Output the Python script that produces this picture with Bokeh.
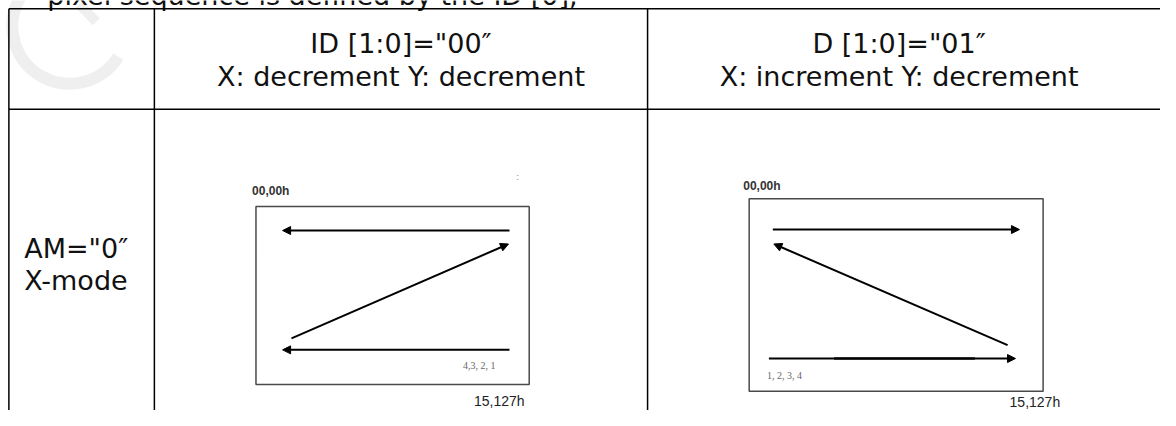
from bokeh.plotting import figure
from bokeh.models import Range1d, Arrow, NormalHead
from bokeh.core.properties import value
from bokeh.embed import file_html
from bokeh.resources import INLINE

# ---- content -------------------------------------------------------------
top_text = "pixel sequence is defined by the ID [0],"
header_line1 = ['ID [1:0]="00\u2033', 'D [1:0]="01\u2033']
header_line2 = ["X: decrement Y: decrement", "X: increment Y: decrement"]
row_label = ['AM="0\u2033', "X-mode"]

# table grid (reference pixels)
col_edges = [8.5, 156, 656]
row_edges = [8.5, 113]
table_right = 1176
table_bottom = 426
header_centers = [406, 911]
header_mid = [44.5, 79]
label_x = 24
label_mid = [257.5, 290.5]

# diagram 1: ID="00"  (x dec, y dec)
d1_box = [259, 536, 214, 399]            # left, right, top, bottom
d1_arrows = [(516, 239, 286, 239), (295, 351, 515, 253), (516, 363, 286, 363)]
d1_start = ("00,00h", 255, 198)
d1_end = ("15,127h", 480, 416)
d1_seq = ("4,3, 2, 1", 469, 379)

# diagram 2: ID="01"  (x inc, y dec)
d2_box = [759, 1057, 206, 406]
d2_arrows = [(783, 238, 1033, 238), (1021, 358, 784, 253), (779, 372, 1029, 372)]
d2_start = ("00,00h", 753, 193)
d2_end = ("15,127h", 1023, 417)
d2_seq = ("1, 2, 3, 4", 777, 390)

# ---- figure --------------------------------------------------------------
p = figure(width=1160, height=410, x_range=Range1d(0, 1176), y_range=Range1d(426, 0),
           output_backend="svg", toolbar_location=None, min_border=0,
           x_axis_location=None, y_axis_location=None)
p.grid.visible = False
p.outline_line_color = None
p.background_fill_color = "white"
p.border_fill_color = "white"

# faint watermark
p.arc(x=[70], y=[27], radius=58, start_angle=1.2, end_angle=5.73,
      line_color="#efefef", line_width=12)
p.segment(x0=[80], y0=[4], x1=[97], y1=[22], line_color="#efefef", line_width=10)

# cut-off sentence above the table
p.text(x=[585], y=[-5.5], text=[top_text], text_font=value("DejaVu Sans"),
       text_font_size="27px", text_align="right", text_baseline="middle",
       text_color="#111111")

# table lines
p.segment(x0=[col_edges[0]] * 2, y0=row_edges, x1=[table_right] * 2, y1=row_edges,
          line_color="black", line_width=1.5)
p.segment(x0=col_edges, y0=[row_edges[0]] * 3, x1=col_edges, y1=[table_bottom] * 3,
          line_color="black", line_width=1.5)

font = value("DejaVu Sans")
p.text(x=header_centers, y=[header_mid[0]] * 2, text=header_line1,
       text_font=font, text_font_size="27px", text_align="center",
       text_baseline="middle", text_color="#111111")
p.text(x=header_centers, y=[header_mid[1]] * 2, text=header_line2,
       text_font=font, text_font_size="27px", text_align="center",
       text_baseline="middle", text_color="#111111")
p.text(x=[label_x] * 2, y=label_mid, text=row_label,
       text_font=font, text_font_size="27px", text_align="left",
       text_baseline="middle", text_color="#111111")

# diagrams
for box, arrows, start, end, seq in [(d1_box, d1_arrows, d1_start, d1_end, d1_seq),
                                      (d2_box, d2_arrows, d2_start, d2_end, d2_seq)]:
    p.quad(left=[box[0]], right=[box[1]], top=[box[2]], bottom=[box[3]],
           fill_color=None, line_color="#4a4a4a", line_width=1.5)
    for (xs, ys, xe, ye) in arrows:
        p.add_layout(Arrow(x_start=xs, y_start=ys, x_end=xe, y_end=ye,
                           line_color="black", line_width=2,
                           end=NormalHead(size=8, fill_color="black", line_color="black")))
    p.text(x=[start[1]], y=[start[2]], text=[start[0]], text_font=value("Liberation Sans"),
           text_font_size="12px", text_font_style="bold", text_color="#333333",
           text_baseline="middle")
    p.text(x=[end[1]], y=[end[2]], text=[end[0]], text_font=value("Liberation Sans"),
           text_font_size="14px", text_color="#222222", text_baseline="middle")
    p.text(x=[seq[1]], y=[seq[2]], text=[seq[0]], text_font=value("Liberation Serif"),
           text_font_size="10px", text_color="#666666", text_baseline="middle")

# extra marks
p.segment(x0=[845], y0=[372], x1=[988], y1=[372], line_color="#555555", line_width=3)
p.text(x=[523], y=[183], text=[":"], text_font=value("Liberation Sans"),
       text_font_size="9px", text_color="#777777", text_baseline="middle")

open("out.html", "w").write(file_html(p, INLINE))
